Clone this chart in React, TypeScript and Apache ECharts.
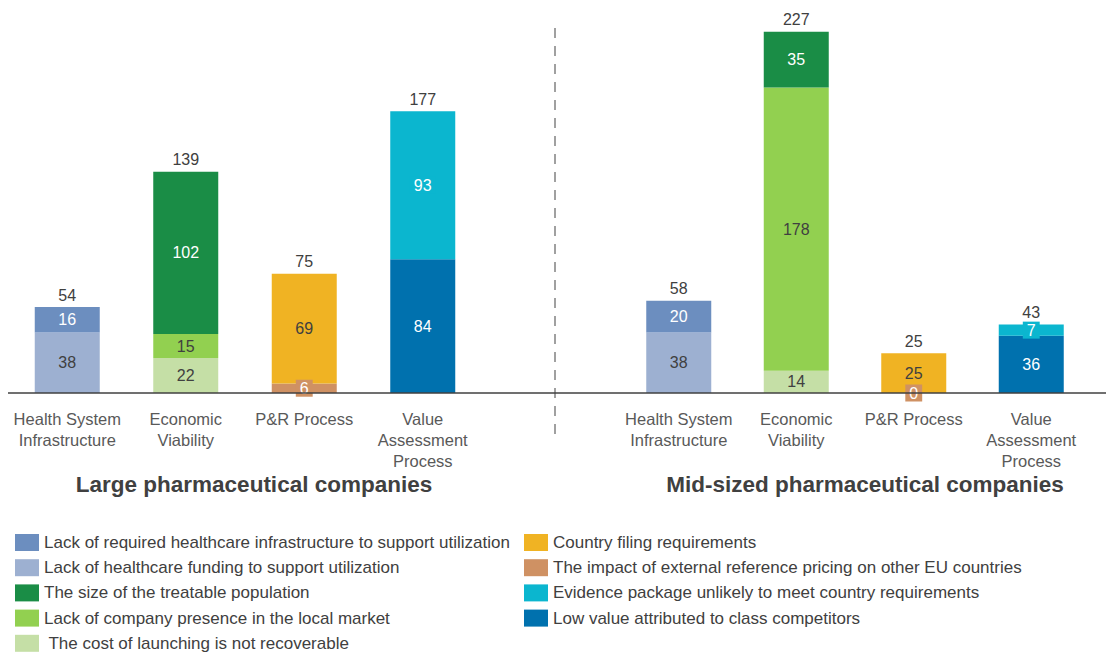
import React, { useEffect, useRef } from "react";
import * as echarts from "echarts";

const categories = ["Health System\nInfrastructure", "Economic\nViability", "P&R Process", "Value\nAssessment\nProcess"];

const seriesNames = [
  "Lack of healthcare funding to support utilization",
  "Lack of required healthcare infrastructure to support utilization",
  " The cost of launching is not recoverable",
  "Lack of company presence in the local market",
  "The size of the treatable population",
  "The impact of external reference pricing on other EU countries",
  "Country filing requirements",
  "Low value attributed to class competitors",
  "Evidence package unlikely to meet country requirements",
];

const seriesColors = ["#9db0d1", "#6c8ebf", "#c5dfa6", "#92d050", "#1a8d46", "#cf9163", "#f0b323", "#0071ae", "#0bb6cf"];
const labelColors = ["#404040", "#ffffff", "#404040", "#404040", "#ffffff", "#ffffff", "#404040", "#ffffff", "#ffffff"];

// values per series (same order as seriesNames), per category
const largeValues: (number | null)[][] = [
  [38, null, null, null],
  [16, null, null, null],
  [null, 22, null, null],
  [null, 15, null, null],
  [null, 102, null, null],
  [null, null, 6, null],
  [null, null, 69, null],
  [null, null, null, 84],
  [null, null, null, 93],
];
const midValues: (number | null)[][] = [
  [38, null, null, null],
  [20, null, null, null],
  [null, 14, null, null],
  [null, 178, null, null],
  [null, 35, null, null],
  [null, null, 0, null],
  [null, null, 25, null],
  [null, null, null, 36],
  [null, null, null, 7],
];
const largeTotals = [54, 139, 75, 177];
const midTotals = [58, 227, 25, 43];

const leftLegend = [seriesNames[1], seriesNames[0], seriesNames[4], seriesNames[3], seriesNames[2]];
const rightLegend = [seriesNames[6], seriesNames[5], seriesNames[8], seriesNames[7]];

const FONT = "Liberation Sans, Arial, sans-serif";

export default function App() {
  const ref = useRef<HTMLDivElement>(null);
  useEffect(() => {
    if (!ref.current) return;
    const chart = echarts.init(ref.current, undefined, { renderer: "svg" });
    const series: any[] = [];
    const build = (values: (number | null)[][], totals: number[], idx: number) => {
      values.forEach((vals, i) => {
        const needsBg = i === 5 || i === 8;
        series.push({
          type: "bar",
          name: seriesNames[i],
          xAxisIndex: idx,
          yAxisIndex: idx,
          stack: "s" + idx,
          barWidth: 65,
          data: vals.map((v) => (v === null ? "-" : v)),
          itemStyle: { color: seriesColors[i] },
          label: {
            show: true,
            position: "inside",
            color: labelColors[i],
            fontSize: 16,
            fontFamily: FONT,
            backgroundColor: needsBg ? seriesColors[i] : "transparent",
            padding: needsBg ? [1, 4, 0, 4] : 0,
          },
        });
      });
      series.push({
        type: "bar",
        name: "total" + idx,
        xAxisIndex: idx,
        yAxisIndex: idx,
        stack: "s" + idx,
        barWidth: 65,
        data: totals.map(() => 0),
        itemStyle: { color: "transparent" },
        label: {
          show: true,
          position: "top",
          distance: 4,
          color: "#404040",
          fontSize: 16,
          fontFamily: FONT,
          formatter: (p: any) => String(totals[p.dataIndex]),
        },
      });
    };
    build(largeValues, largeTotals, 0);
    build(midValues, midTotals, 1);

    const xAxisBase = {
      type: "category",
      data: categories,
      axisLine: { show: false },
      axisTick: { show: false },
      axisLabel: { color: "#595959", fontSize: 16.5, lineHeight: 21, margin: 15, fontFamily: FONT, interval: 0 },
    };
    const yAxisBase = { type: "value", min: 0, max: 240, show: false, splitLine: { show: false } };
    const legendBase = {
      orient: "vertical",
      top: 534,
      padding: 0,
      height: 121,
      icon: "rect",
      itemWidth: 24,
      itemHeight: 17,
      itemGap: 8.2,
      textStyle: { fontSize: 17, lineHeight: 17, color: "#404040", fontFamily: FONT },
      selectedMode: false,
    };

    chart.setOption({
      animation: false,
      textStyle: { fontFamily: FONT },
      grid: [
        { left: 8, width: 474, top: 11, bottom: 262 },
        { left: 620, width: 470, top: 11, bottom: 262 },
      ],
      xAxis: [{ ...xAxisBase, gridIndex: 0 }, { ...xAxisBase, gridIndex: 1 }],
      yAxis: [{ ...yAxisBase, gridIndex: 0 }, { ...yAxisBase, gridIndex: 1 }],
      legend: [
        { ...legendBase, data: leftLegend, left: 15 },
        { ...legendBase, data: rightLegend, left: 524 },
      ],
      graphic: [
        { type: "line", shape: { x1: 8, y1: 393, x2: 1106, y2: 393 }, style: { stroke: "#404040", lineWidth: 1.5 }, z: 10 },
        { type: "line", shape: { x1: 555, y1: 28, x2: 555, y2: 440 }, style: { stroke: "#a0a0a0", lineWidth: 2, lineDash: [10, 8] } },
        {
          type: "text",
          x: 254,
          y: 484,
          style: { text: "Large pharmaceutical companies", font: "bold 22.5px " + FONT, fill: "#404040", textAlign: "center", textVerticalAlign: "middle" },
        },
        {
          type: "text",
          x: 865,
          y: 484,
          style: { text: "Mid-sized pharmaceutical companies", font: "bold 22.5px " + FONT, fill: "#404040", textAlign: "center", textVerticalAlign: "middle" },
        },
      ],
      series,
    });
    return () => chart.dispose();
  }, []);
  return <div ref={ref} style={{ position: "fixed", left: 0, top: 0, width: 1106, height: 655, background: "#fff" }} />;
}
